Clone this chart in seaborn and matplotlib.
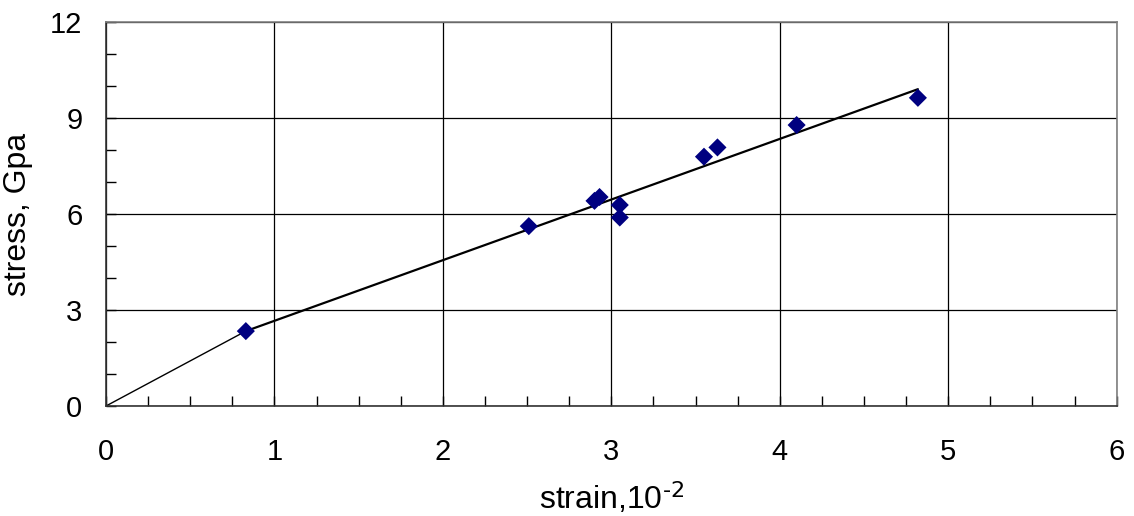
import numpy as np
import pandas as pd
import matplotlib
matplotlib.use('Agg')
import matplotlib.pyplot as plt
import seaborn as sns

# measured points (strain in 1e-2, stress in GPa)
strain = [0.83, 2.51, 2.90, 2.93, 3.05, 3.05, 3.55, 3.63, 4.10, 4.82]
stress = [2.34, 5.62, 6.41, 6.53, 6.28, 5.89, 7.79, 8.08, 8.78, 9.63]

# initial segment from origin to first point
init_x = [0.0, 0.83]
init_y = [0.0, 2.34]

# trend line through the upper points
trend_x = [0.83, 4.82]
trend_y = [2.34, 9.90]

x_ticks = [0, 1, 2, 3, 4, 5, 6]
y_ticks = [0, 3, 6, 9, 12]

sns.set_style('white')
plt.rcParams['font.family'] = ['Liberation Sans', 'DejaVu Sans']
plt.rcParams['mathtext.default'] = 'regular'
plt.rcParams['text.color'] = 'black'
plt.rcParams['axes.labelcolor'] = 'black'
plt.rcParams['xtick.color'] = 'black'
plt.rcParams['ytick.color'] = 'black'

df = pd.DataFrame({'strain': strain, 'stress': stress})

fig = plt.figure(figsize=(11.34, 5.16), dpi=100)
ax = fig.add_axes([0.0935, 0.2132, 0.8912, 0.7442])

ax.grid(True, color='black', lw=0.9)
ax.set_axisbelow(True)

sns.lineplot(x=init_x, y=init_y, color='black', lw=1.0, ax=ax)
sns.lineplot(x=trend_x, y=trend_y, color='black', lw=1.6, ax=ax)
sns.scatterplot(data=df, x='strain', y='stress', marker='D', s=85,
                color='#000080', edgecolor='none', ax=ax, zorder=5)

ax.set_xlim(0, 6)
ax.set_ylim(0, 12)
ax.set_xticks(x_ticks)
ax.set_yticks(y_ticks)
ax.set_xticks(np.arange(0, 6.01, 0.25), minor=True)
ax.set_yticks(np.arange(0, 12.01, 1), minor=True)

ax.tick_params(which='both', direction='in', bottom=True, left=True,
               top=False, right=False, labelsize=21, color='black',
               length=7, width=1)
ax.tick_params(axis='x', pad=23)
ax.tick_params(axis='y', pad=17)

for side in ['left', 'bottom']:
    ax.spines[side].set_color('#333333')
    ax.spines[side].set_linewidth(1.2)
for side in ['top', 'right']:
    ax.spines[side].set_visible(True)
    ax.spines[side].set_color('#808080')
    ax.spines[side].set_linewidth(1.2)

ax.set_xlabel(r'strain,10$^{\text{-2}}$', fontsize=23, labelpad=10)
ax.set_ylabel('stress, Gpa', fontsize=23, labelpad=12)

fig.savefig('out.png', dpi=100)
